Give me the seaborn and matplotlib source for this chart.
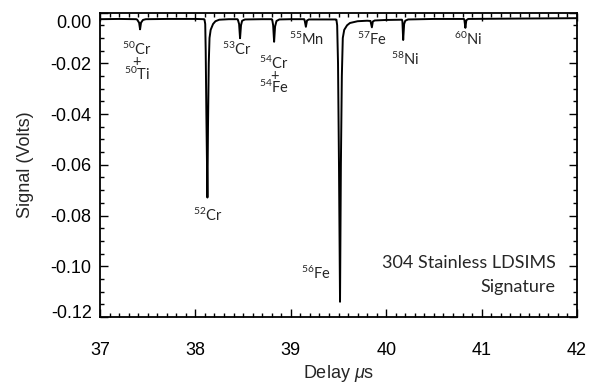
import matplotlib
matplotlib.use("Agg")
import matplotlib.pyplot as plt
import seaborn as sns
import pandas as pd
from matplotlib.ticker import MultipleLocator
from matplotlib.transforms import ScaledTranslation

# Trace vertices (delay in microseconds, signal in volts)
delay_us = [
    37.00, 37.20, 37.38,
    37.39, 37.41, 37.42, 37.43, 37.45, 37.48,
    37.70, 38.00, 38.09,
    38.095, 38.103, 38.108, 38.115, 38.126, 38.132, 38.140, 38.148, 38.160, 38.185, 38.21, 38.25,
    38.35, 38.44,
    38.445, 38.458, 38.468, 38.478, 38.49, 38.52,
    38.70, 38.80,
    38.805, 38.815, 38.825, 38.835, 38.85, 38.88,
    39.00, 39.14,
    39.145, 39.158, 39.17, 39.19,
    39.30, 39.47,
    39.478, 39.486, 39.495, 39.505, 39.516, 39.525, 39.535, 39.545, 39.56, 39.59, 39.62, 39.70, 39.80, 39.835,
    39.85, 39.86, 39.88,
    40.00, 40.165,
    40.17, 40.178, 40.188, 40.20, 40.23,
    40.50, 40.815,
    40.82, 40.83, 40.84, 40.86,
    41.20, 41.60, 42.00,
]
signal_v = [
    -0.0026, -0.0025, -0.0026,
    -0.0028, -0.0040, -0.0066, -0.0040, -0.0029, -0.0026,
    -0.0025, -0.0025, -0.0026,
    -0.0027, -0.0045, -0.0150, -0.0400, -0.0729, -0.0450, -0.0200, -0.0100, -0.0068, -0.0045, -0.0034, -0.0028,
    -0.0026, -0.0026,
    -0.0028, -0.0045, -0.0101, -0.0050, -0.0032, -0.0027,
    -0.0026, -0.0026,
    -0.0028, -0.0050, -0.0115, -0.0055, -0.0033, -0.0027,
    -0.0026, -0.0026,
    -0.0030, -0.0056, -0.0031, -0.0027,
    -0.0027, -0.0027,
    -0.0028, -0.0050, -0.0200, -0.0600, -0.1140, -0.0600, -0.0250, -0.0100, -0.0068, -0.0050, -0.0041, -0.0034, -0.0032, -0.0033,
    -0.0058, -0.0035, -0.0031,
    -0.0029, -0.0028,
    -0.0035, -0.0108, -0.0045, -0.0032, -0.0027,
    -0.0025, -0.0025,
    -0.0030, -0.0060, -0.0030, -0.0025,
    -0.0024, -0.0023, -0.0022,
]

# Peak annotations (single-line ones)
peak_labels = [r"$^{52}$Cr", r"$^{53}$Cr", r"$^{55}$Mn", r"$^{56}$Fe",
               r"$^{57}$Fe", r"$^{58}$Ni", r"$^{60}$Ni"]
label_x = [38.127, 38.437, 39.169, 39.264, 39.851, 40.20, 40.858]
label_y = [-0.0820, -0.0167, -0.0128, -0.1051, -0.0128, -0.0206, -0.0128]

# Stacked (blended) peak annotations
stack_labels = [r"$^{50}$Cr" "\n+\n" r"$^{50}$Ti", r"$^{54}$Cr" "\n+\n" r"$^{54}$Fe"]
stack_x = [37.385, 38.826]
stack_top_y = [-0.0112, -0.0165]

title_lines = ["304 Stainless LDSIMS", "Signature"]
title_y = [-0.1007, -0.1100]

x_ticks = [37, 38, 39, 40, 41, 42]
y_ticks = [0.00, -0.02, -0.04, -0.06, -0.08, -0.10, -0.12]

sns.set_style("ticks")
plt.rcParams["font.family"] = ["Liberation Sans", "DejaVu Sans"]
plt.rcParams["mathtext.fontset"] = "custom"
plt.rcParams["mathtext.rm"] = "Lato"
plt.rcParams["mathtext.it"] = "Liberation Sans:italic"

fig = plt.figure(figsize=(5.9, 3.85), dpi=100)
ax = fig.add_axes([100 / 590, 1 - 317 / 385, 477 / 590, (317 - 12.6) / 385])

df = pd.DataFrame({"delay": delay_us, "signal": signal_v})
sns.lineplot(data=df, x="delay", y="signal", sort=False, estimator=None,
             color="black", linewidth=1.4, ax=ax)

ax.set_xlim(37, 42)
ax.set_ylim(-0.12, 0.0)
ax.set_xticks(x_ticks)
ax.set_yticks(y_ticks)
ax.set_yticklabels([f"{v:.2f}" for v in y_ticks])
ax.xaxis.set_minor_locator(MultipleLocator(0.1))
ax.yaxis.set_minor_locator(MultipleLocator(0.005))
ax.tick_params(axis="both", which="both", direction="in", top=True, right=True,
               labelsize=13, colors="black", width=1.0)
ax.tick_params(axis="both", which="major", length=6)
ax.tick_params(axis="x", which="major", pad=18)
ax.tick_params(axis="y", which="major", pad=6)
ax.tick_params(axis="both", which="minor", length=3)
for s in ax.spines.values():
    s.set_linewidth(1.3)
    s.set_color("black")

ax.set_xlabel(r"Delay $\mu$s", fontsize=13, labelpad=3)
ax.set_ylabel("Signal (Volts)", fontsize=13, labelpad=12)

for t, x, y in zip(peak_labels, label_x, label_y):
    ax.text(x, y, t, ha="center", va="baseline", fontsize=10.5, family="Lato")

for t, x, y in zip(stack_labels, stack_x, stack_top_y):
    ax.text(x, y, t, ha="center", va="top", multialignment="center",
            fontsize=10.5, family="Lato", linespacing=0.72)

for t, y in zip(title_lines, title_y):
    ax.text(41.774, y, t, ha="right", va="baseline", fontsize=13, family="Lato")

# End labels of the y axis sit slightly inside, as in the reference
yt = ax.yaxis.get_major_ticks()
lab_top = yt[0].label1
lab_top.set_transform(lab_top.get_transform() + ScaledTranslation(0, -9 / 100, fig.dpi_scale_trans))
lab_bot = yt[-1].label1
lab_bot.set_transform(lab_bot.get_transform() + ScaledTranslation(0, 5 / 100, fig.dpi_scale_trans))

fig.savefig("out.png", dpi=100)
